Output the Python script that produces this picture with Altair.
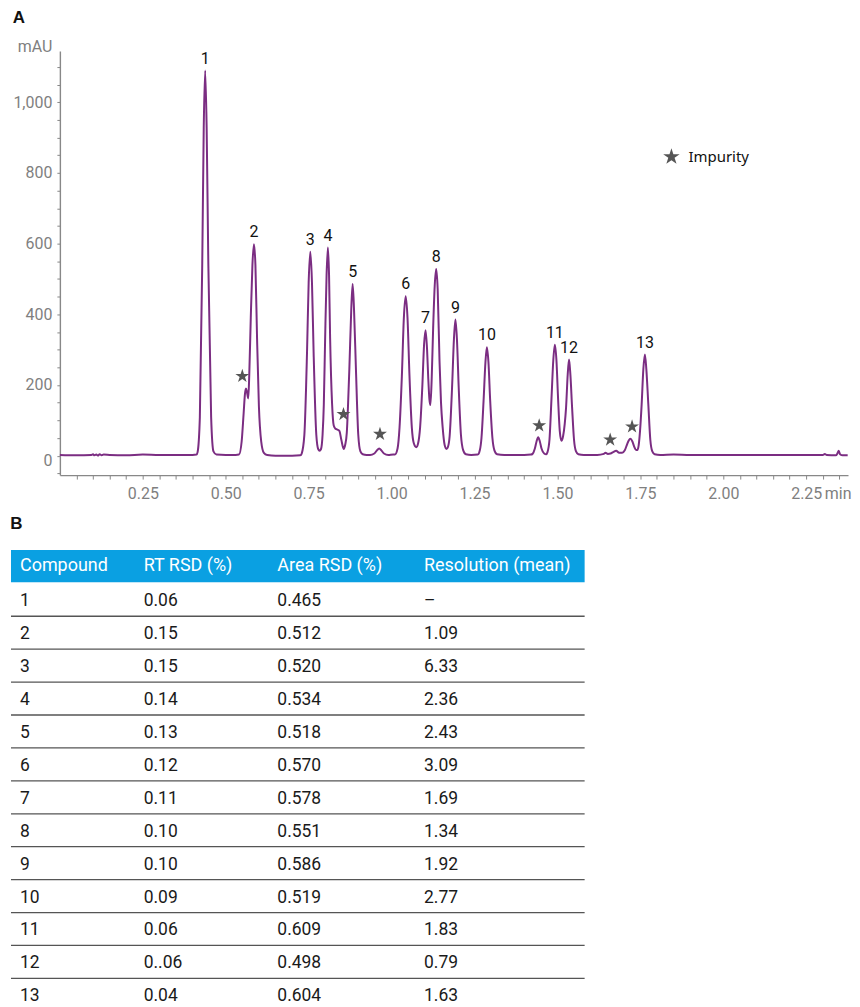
import altair as alt
import pandas as pd

# ---------------- data: chromatogram trace (time in min, signal in mAU) ----------------
trace_t = [
    0.000, 0.050, 0.095, 0.100, 0.104, 0.110, 0.115, 0.120, 0.126, 0.132, 0.150, 0.200,
    0.250, 0.300, 0.350, 0.400, 0.412,
    0.4152, 0.4220, 0.4292, 0.4337, 0.4380, 0.4425, 0.4475, 0.4560, 0.4630, 0.4720,
    0.500, 0.530, 0.540,
    0.548, 0.554, 0.558, 0.561, 0.564, 0.568, 0.571, 0.5755, 0.5805, 0.5850, 0.5895,
    0.5945, 0.6000, 0.6070, 0.6150, 0.6250, 0.650, 0.700, 0.725,
    0.729, 0.737, 0.745, 0.750, 0.755, 0.760, 0.765, 0.773, 0.779, 0.783,
    0.787, 0.792, 0.7957, 0.7997, 0.8040, 0.8080, 0.8115, 0.8147, 0.8207, 0.8256,
    0.8300, 0.8360, 0.8426, 0.8485, 0.8556,
    0.8600, 0.8650, 0.8690, 0.8726, 0.8784, 0.8826, 0.8868, 0.8926, 0.8995, 0.9060,
    0.9130, 0.9250,
    0.9350, 0.9480, 0.9560, 0.9625, 0.9690, 0.9770, 0.9900, 1.0050,
    1.0100, 1.0180, 1.0240, 1.0310, 1.0370, 1.0425, 1.0480, 1.0540, 1.0610, 1.0670, 1.0745,
    1.0800, 1.0860, 1.0925, 1.0980, 1.1025, 1.1070, 1.1105, 1.1140, 1.1170,
    1.1210, 1.1253, 1.1300, 1.1345, 1.1390, 1.1445, 1.1490, 1.1540, 1.1600, 1.1655,
    1.1700, 1.1750, 1.1823, 1.1880, 1.1925, 1.1970, 1.2024, 1.2090, 1.2160, 1.2240, 1.2400,
    1.2600, 1.2660, 1.2710, 1.2773, 1.2830, 1.2873, 1.2920, 1.2973, 1.3040, 1.3100,
    1.3180, 1.3400, 1.4000, 1.4200,
    1.4250, 1.4320, 1.4370, 1.4420, 1.4470, 1.4520, 1.4600, 1.4660,
    1.4700, 1.4760, 1.4820, 1.4875, 1.4922, 1.4970, 1.5020, 1.5070, 1.5120,
    1.5170, 1.5220, 1.5260, 1.5310, 1.5350, 1.5390, 1.5442, 1.5500, 1.5560, 1.5630, 1.5800,
    1.6200, 1.6400, 1.6450, 1.6520, 1.6600, 1.6680, 1.6770, 1.6860, 1.6950,
    1.7030, 1.7100, 1.7150, 1.7200, 1.7260, 1.7320, 1.7370, 1.7410,
    1.7450, 1.7490, 1.7539, 1.7590, 1.7637, 1.7680, 1.7740, 1.7800, 1.7860, 1.7930,
    1.8100, 1.8500, 1.9000, 2.0000, 2.1000, 2.2000, 2.3000, 2.3060, 2.3120, 2.3400,
    2.3450, 2.3480, 2.3520, 2.3600, 2.3750,
]
trace_v = [
    2, 1, 2, 4, 1, 3, 0, 4, 1, 3, 2, 1,
    3, 2, 2, 2, 3,
    10, 109, 545, 927, 1090, 927, 545, 109, 12, 3,
    2, 2, 3,
    40, 120, 175, 190, 180, 162, 230, 390, 540, 598, 540,
    330, 140, 40, 8, 2, 0, 0, 1,
    6, 58, 290, 490, 577, 490, 290, 60, 18, 14,
    18, 60, 145, 333, 510, 589, 510, 333, 145, 85,
    77, 74, 70, 45, 19,
    30, 65, 150, 243, 413, 486, 413, 243, 60, 12,
    4, 2,
    2, 6, 15, 20, 15, 6, 2, 3,
    3, 20, 80, 225, 390, 451, 390, 225, 80, 35, 24,
    35, 80, 192, 315, 355, 300, 220, 160, 143,
    220, 361, 480, 528, 470, 268, 150, 80, 30, 19,
    25, 55, 192, 330, 385, 330, 192, 60, 15, 4, 2,
    3, 15, 50, 155, 265, 307, 265, 155, 50, 15,
    4, 2, 2, 3,
    5, 20, 40, 52, 40, 20, 6, 4,
    10, 45, 160, 270, 314, 270, 160, 70, 42,
    55, 90, 136, 230, 272, 230, 136, 45, 12, 4, 2,
    2, 5, 8, 5, 6, 10, 14, 8, 8,
    15, 32, 43, 48, 40, 24, 16, 16,
    30, 70, 145, 245, 286, 245, 145, 45, 12, 4,
    2, 3, 2, 2, 2, 2, 2, 5, 2, 1,
    8, 14, 4, 1, 1,
]

# peaks (numbered compounds)
peak_labels = ["1", "2", "3", "4", "5", "6", "7", "8", "9", "10", "11", "12", "13"]
peak_rt = [0.438, 0.585, 0.755, 0.808, 0.8826, 1.0425, 1.1025, 1.1345, 1.1925,
           1.2873, 1.4922, 1.535, 1.7637]
peak_height = [1090, 598, 577, 589, 486, 451, 355, 528, 385, 307, 314, 272, 286]

# impurity markers
impurity_rt = [0.550, 0.855, 0.965, 1.445, 1.659, 1.725]
impurity_mau = [225, 117, 61, 85, 45, 82]
impurity_name = "Impurity"

# ---------------- data: table B ----------------
table_headers = ["Compound", "RT RSD (%)", "Area RSD (%)", "Resolution (mean)"]
compounds = ["1", "2", "3", "4", "5", "6", "7", "8", "9", "10", "11", "12", "13"]
rt_rsd = ["0.06", "0.15", "0.15", "0.14", "0.13", "0.12", "0.11", "0.10", "0.10",
          "0.09", "0.06", "0..06", "0.04"]
area_rsd = ["0.465", "0.512", "0.520", "0.534", "0.518", "0.570", "0.578", "0.551",
            "0.586", "0.519", "0.609", "0.498", "0.604"]
resolution = ["\u2013", "1.09", "6.33", "2.36", "2.43", "3.09", "1.69", "1.34", "1.92",
              "2.77", "1.83", "0.79", "1.63"]

# ---------------- styles ----------------
FONT = "Roboto"
BOLD_FONT = "Liberation Sans"
GREY = "#7f7f7f"
PURPLE = "#7b2d82"
STAR = ("M0,-1 L0.2245,-0.309 L0.951,-0.309 L0.363,0.118 L0.588,0.809 "
        "L0,0.382 L-0.588,0.809 L-0.363,0.118 L-0.951,-0.309 L-0.2245,-0.309 Z")

W, H = 790, 425
X_MAX = 2.376
ROW_H = 33
HEAD_H = 32.5
TABLE_W = 575
TX0 = -49  # table left edge relative to the shared column origin
COLX = f"{TX0} + [9, 133, 267, 414][datum.col]"

# ---------------- chart A ----------------
trace_df = pd.DataFrame({"t": trace_t, "v": trace_v})
peak_df = pd.DataFrame({"t": peak_rt, "v": peak_height, "label": peak_labels})
imp_df = pd.DataFrame({"t": impurity_rt, "v": impurity_mau, "kind": impurity_name})

xs = alt.Scale(domain=[0, X_MAX], nice=False, zero=False)
ys = alt.Scale(domain=[-55, 1145], nice=False, zero=False)

x_tick_values = [round(0.05 * i, 2) for i in range(1, 48)]
y_tick_values = list(range(-50, 1101, 50))

x_axis = alt.Axis(
    values=x_tick_values, tickCount=200,
    labelExpr="abs(datum.value*4 - round(datum.value*4)) < 0.001 ? format(datum.value, '.2f') : ''",
    title="min", titleX=W + 3, titleY=10, titleAlign="right", titleBaseline="top",
    titleFont=FONT, titleFontSize=16, titleFontWeight="normal", titleColor=GREY,
    labelFont=FONT, labelFontSize=16, labelColor=GREY, labelPadding=6,
    tickSize=4, tickColor="#888", domainColor="#888", domainWidth=1.4, grid=False,
    labelFlush=False, labelOverlap=False,
)
y_axis = alt.Axis(
    values=y_tick_values, tickCount=200,
    labelExpr="datum.value % 200 == 0 ? format(datum.value, ',') : ''",
    title="mAU", titleAngle=0, titleX=-8, titleY=-5, titleAlign="right",
    titleBaseline="middle", titleFont=FONT, titleFontSize=16,
    titleFontWeight="normal", titleColor=GREY,
    labelFont=FONT, labelFontSize=16, labelColor=GREY, labelPadding=5,
    labelOffset={"condition": {"test": "datum.value == 0", "value": 5}, "value": 0},
    tickSize=3, tickColor="#888", domainColor="#888", domainWidth=1.4, grid=False,
    labelOverlap=False,
)

line = alt.Chart(trace_df).mark_line(
    color=PURPLE, strokeWidth=2, interpolate="monotone"
).encode(
    x=alt.X("t:Q", scale=xs, axis=x_axis),
    y=alt.Y("v:Q", scale=ys, axis=y_axis),
)

stars = alt.Chart(imp_df).mark_point(
    filled=True, color="#555555", size=215, opacity=1, strokeWidth=0
).encode(
    x=alt.X("t:Q", scale=xs),
    y=alt.Y("v:Q", scale=ys),
    shape=alt.Shape(
        "kind:N",
        scale=alt.Scale(domain=[impurity_name], range=[STAR]),
        legend=alt.Legend(
            title=None, orient="none", legendX=604, legendY=97,
            symbolSize=300, symbolFillColor="#555555", symbolStrokeWidth=0,
            labelFont="Noto Sans", labelFontSize=15,
            labelColor="#111111", labelOffset=8,
        ),
    ),
)

labels = alt.Chart(peak_df).mark_text(
    baseline="bottom", dy=-4, fontSize=16, font=FONT, color="#111111"
).encode(
    x=alt.X("t:Q", scale=xs),
    y=alt.Y("v:Q", scale=ys),
    text="label:N",
)

top = alt.layer(line, stars, labels).properties(
    width=W, height=H,
    title=alt.TitleParams("A", anchor="start", frame="bounds", fontSize=17,
                          fontWeight="bold", font=BOLD_FONT, color="#111111", offset=11),
)

# ---------------- table B ----------------
cells = []
for i, vals in enumerate(zip(compounds, rt_rsd, area_rsd, resolution)):
    for j, val in enumerate(vals):
        cells.append({"row": i + 1, "col": j, "text": val})
cell_df = pd.DataFrame(cells)
head_df = pd.DataFrame({"col": list(range(len(table_headers))), "text": table_headers})

header_rect = alt.Chart(head_df).transform_filter("datum.col == 0").mark_rect(
    color="#0aa0e2"
).encode(x=alt.value(TX0), x2=alt.value(TX0 + TABLE_W), y=alt.value(0), y2=alt.value(HEAD_H))

header_text = alt.Chart(head_df).transform_calculate(px=COLX).mark_text(
    align="left", baseline="middle", fontSize=18, font=FONT, color="white"
).encode(
    x=alt.X("px:Q", scale=None, axis=None),
    y=alt.value(HEAD_H / 2),
    text="text:N",
)

rules = alt.Chart(cell_df).transform_filter(
    f"datum.col == 0 && datum.row < {len(compounds)}"
).transform_calculate(
    py=f"{HEAD_H + 1} + {ROW_H} * datum.row"
).mark_rule(color="#555555", strokeWidth=1.3).encode(
    y=alt.Y("py:Q", scale=None, axis=None),
    x=alt.value(TX0), x2=alt.value(TX0 + TABLE_W),
)

cell_text = alt.Chart(cell_df).transform_calculate(
    px=COLX, py=f"{HEAD_H + 1} + {ROW_H} * (datum.row - 1) + 18"
).mark_text(
    align="left", baseline="middle", fontSize=17.5, font=FONT, color="#1a1a1a"
).encode(
    x=alt.X("px:Q", scale=None, axis=None),
    y=alt.Y("py:Q", scale=None, axis=None),
    text="text:N",
)

table = alt.layer(header_rect, header_text, rules, cell_text).properties(
    width=TABLE_W + TX0, height=HEAD_H + ROW_H * len(compounds),
    title=alt.TitleParams("B", anchor="start", frame="bounds", fontSize=17,
                          fontWeight="bold", font=BOLD_FONT, color="#111111", offset=17),
)

chart = alt.vconcat(top, table, spacing=14).properties(
    padding={"left": 2, "top": 0, "right": 0, "bottom": 0},
    background="white",
).configure_view(stroke=None)

chart.save("out.html", embed_options={"renderer": "svg", "actions": False})
